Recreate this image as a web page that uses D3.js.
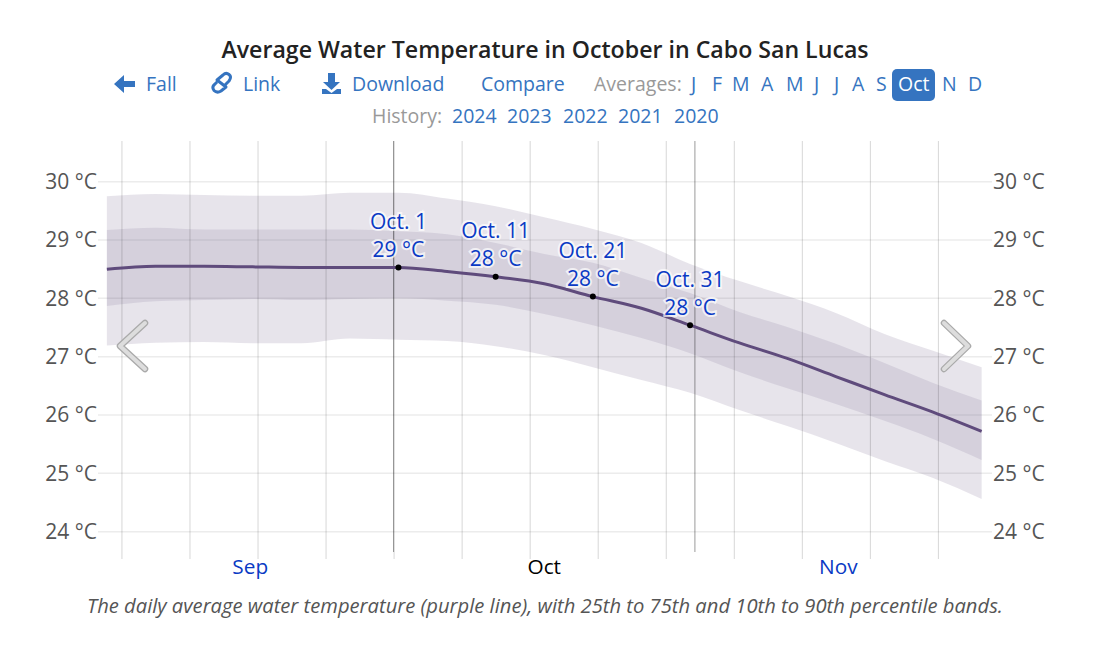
<!DOCTYPE html>
<html>
<head>
<meta charset="utf-8">
<script src="https://cdn.jsdelivr.net/npm/d3@7"></script>
<style>
  body { margin: 0; background: #fff; }
  text { font-family: "Open Sans", "Noto Sans", sans-serif; }
  .axis .domain { display: none; }
</style>
</head>
<body>
<script>
var dayOffsets = [0, 5, 10, 15, 20, 25, 30, 35, 40, 45, 50, 55, 60, 65, 70, 75, 80, 85, 90];
var mean = [28.50, 28.55, 28.55, 28.54, 28.53, 28.53, 28.53, 28.46, 28.37, 28.25, 28.03, 27.83, 27.54, 27.24, 26.97, 26.66, 26.35, 26.05, 25.72];
var p90 = [29.75, 29.79, 29.77, 29.76, 29.76, 29.81, 29.81, 29.71, 29.58, 29.39, 29.19, 28.95, 28.59, 28.30, 28.04, 27.75, 27.39, 27.10, 26.82];
var p75 = [29.17, 29.21, 29.18, 29.18, 29.18, 29.18, 29.15, 29.10, 28.95, 28.76, 28.61, 28.35, 28.09, 27.77, 27.51, 27.22, 26.89, 26.55, 26.25];
var p25 = [27.87, 27.95, 27.97, 27.99, 27.97, 27.99, 28.00, 27.96, 27.89, 27.73, 27.54, 27.32, 27.06, 26.74, 26.46, 26.19, 25.90, 25.59, 25.23];
var p10 = [27.19, 27.24, 27.25, 27.23, 27.23, 27.31, 27.29, 27.27, 27.18, 27.03, 26.82, 26.60, 26.38, 26.09, 25.81, 25.52, 25.21, 24.92, 24.56];

var yTicks = [24, 25, 26, 27, 28, 29, 30];
var monthNames = ['Sep', 'Oct', 'Nov'];
var monthCenters = [Date.UTC(2024, 8, 16, 6), Date.UTC(2024, 9, 16, 12), Date.UTC(2024, 10, 15, 18)];
var monthColors = ['#0a3ac4', '#000', '#0a3ac4'];
var markedIdx = [6, 8, 10, 12];
var markedNames = ['Oct. 1', 'Oct. 11', 'Oct. 21', 'Oct. 31'];

var navLabels = ['Fall', 'Link', 'Download', 'Compare'];
var navX = [146, 243, 352, 481];
var avgLabels = ['J', 'F', 'M', 'A', 'M', 'J', 'J', 'A', 'S', 'Oct', 'N', 'D'];
var avgX = [691, 712, 732, 761, 786, 814, 834, 852, 876, 898, 942, 968];
var years = ['2024', '2023', '2022', '2021', '2020'];
var yearX = [452, 507, 563, 618, 674];

var linkBlue = '#3574c0';
var start = Date.UTC(2024, 8, 1);
var day = 86400000;
function dateOf(i) { return new Date(start + i * day + day / 2); }

var svg = d3.select('body').append('svg')
    .attr('width', 1096)
    .attr('height', 665)
    .style('display', 'block');

// title + nav rows
svg.append('text')
  .attr('x', 545).attr('y', 58)
  .attr('text-anchor', 'middle')
  .attr('font-size', 23.15)
  .attr('font-weight', 600)
  .attr('fill', '#222')
  .text('Average Water Temperature in October in Cabo San Lucas');

svg.append('rect')
  .attr('x', 892).attr('y', 69).attr('width', 43).attr('height', 32).attr('rx', 5)
  .attr('fill', linkBlue);

function row(labels, xs, y, size) {
  svg.append('g').selectAll('text')
    .data(labels)
    .enter().append('text')
    .attr('x', function (d, i) { return xs[i]; })
    .attr('y', y)
    .attr('font-size', size)
    .attr('fill', function (d) { return d == 'Oct' ? '#fff' : linkBlue; })
    .text(function (d) { return d; });
}
row(navLabels, navX, 91, 19.5);
row(avgLabels, avgX, 91, 19.5);
row(years, yearX, 123, 19.5);

svg.append('text').attr('x', 594).attr('y', 91).attr('font-size', 19.5).attr('fill', '#999').text('Averages:');
svg.append('text').attr('x', 372).attr('y', 123).attr('font-size', 19.5).attr('fill', '#999').text('History:');

// nav icons
svg.append('path').attr('fill', linkBlue)
  .attr('d', 'M114 84 L124 75 L124 81 L135 81 L135 87 L124 87 L124 93 Z');
svg.append('path').attr('fill', 'none').attr('stroke', linkBlue).attr('stroke-width', 3)
  .attr('stroke-linejoin', 'round')
  .attr('d', 'M225 85 L229 81 Q232 77 229 74.5 Q226 72 223 75 L217 80 L226 87 L221 91 Q217 93.5 214 90.5 Q211.5 87 214.5 84.5 L217 82');
svg.append('path').attr('fill', linkBlue)
  .attr('d', 'M328 73 L335 73 L335 82 L340 82 L331.5 90 L323 82 L328 82 Z M322 89 L326 89 L331.5 93 L337 89 L341 89 L341 94 L322 94 Z');

var x = d3.scaleUtc()
    .domain([new Date(start), new Date(Date.UTC(2024, 11, 1))])
    .range([102, 986.5]);

var y = d3.scaleLinear()
    .domain([24, 30])
    .range([531.7, 181.7]);

// horizontal grid
svg.append('g').selectAll('line')
  .data(yTicks)
  .enter().append('line')
  .attr('x1', 98).attr('x2', 992)
  .attr('y1', function (d) { return y(d); })
  .attr('y2', function (d) { return y(d); })
  .attr('stroke', '#ececec')
  .attr('stroke-width', 1.5);

// percentile bands
function band(lo, hi) {
  return d3.area()
    .curve(d3.curveMonotoneX)
    .x(function (d) { return x(dateOf(d)); })
    .y0(function (d, i) { return y(lo[i]); })
    .y1(function (d, i) { return y(hi[i]); })(dayOffsets);
}
svg.append('path').attr('d', band(p10, p90)).attr('fill', '#5f4b7c').attr('fill-opacity', 0.15);
svg.append('path').attr('d', band(p25, p75)).attr('fill', '#5f4b7c').attr('fill-opacity', 0.13);

// weekly vertical grid
var xaxis = d3.axisBottom(x)
    .tickValues(d3.utcDay.range(new Date(Date.UTC(2024, 8, 3)), new Date(Date.UTC(2024, 11, 1)), 7))
    .tickSize(-418)
    .tickSizeOuter(0)
    .tickFormat('');
svg.append('g')
  .attr('class', 'axis')
  .attr('transform', 'translate(0,559)')
  .call(xaxis)
  .selectAll('.tick line')
  .attr('stroke', '#000')
  .attr('stroke-opacity', 0.16);

// month edges
svg.append('g').selectAll('line')
  .data([Date.UTC(2024, 9, 1), Date.UTC(2024, 10, 1)])
  .enter().append('line')
  .attr('x1', function (d) { return x(new Date(d)); })
  .attr('x2', function (d) { return x(new Date(d)); })
  .attr('y1', 141).attr('y2', 552)
  .attr('stroke', '#000')
  .attr('stroke-opacity', 0.4);

// y axes on both sides
function styleAxis(g) {
  g.selectAll('.tick line').remove();
  g.selectAll('.tick text').attr('font-size', 21).attr('fill', '#555');
}
var fmt = function (d) { return d + ' °C'; };
svg.append('g').attr('class', 'axis').attr('transform', 'translate(97,0)')
  .call(d3.axisLeft(y).tickValues(yTicks).tickSize(0).tickPadding(0).tickFormat(fmt))
  .call(styleAxis);
svg.append('g').attr('class', 'axis').attr('transform', 'translate(993,0)')
  .call(d3.axisRight(y).tickValues(yTicks).tickSize(0).tickPadding(0).tickFormat(fmt))
  .call(styleAxis);

// mean line
var line = d3.line()
    .curve(d3.curveMonotoneX)
    .x(function (d) { return x(dateOf(d)); })
    .y(function (d, i) { return y(mean[i]); });
svg.append('path')
  .attr('d', line(dayOffsets))
  .attr('fill', 'none')
  .attr('stroke', '#5f4b7c')
  .attr('stroke-width', 3);

// marked days
var marks = svg.append('g').selectAll('g')
  .data(markedIdx)
  .enter().append('g')
  .attr('transform', function (d) { return 'translate(' + x(dateOf(dayOffsets[d])) + ',' + y(mean[d]) + ')'; });
marks.append('circle').attr('r', 3).attr('fill', '#000');
function markText(dy, fn) {
  marks.append('text')
    .attr('y', dy)
    .attr('text-anchor', 'middle')
    .attr('font-size', 21)
    .attr('fill', '#0a3ac4')
    .attr('stroke', '#fff')
    .attr('stroke-opacity', 0.7)
    .attr('stroke-width', 4)
    .attr('paint-order', 'stroke')
    .text(fn);
}
markText(-38.5, function (d, i) { return markedNames[i]; });
markText(-10.5, function (d) { return Math.round(mean[d]) + ' °C'; });

// month labels
svg.append('g').selectAll('text')
  .data(monthNames)
  .enter().append('text')
  .attr('x', function (d, i) { return x(new Date(monthCenters[i])); })
  .attr('y', 574)
  .attr('text-anchor', 'middle')
  .attr('font-size', 20.8)
  .attr('fill', function (d, i) { return monthColors[i]; })
  .text(function (d) { return d; });

// caption
svg.append('text')
  .attr('x', 545).attr('y', 613)
  .attr('text-anchor', 'middle')
  .attr('font-size', 20.2)
  .attr('font-style', 'italic')
  .attr('fill', '#555')
  .text('The daily average water temperature (purple line), with 25th to 75th and 10th to 90th percentile bands.');

// scroll chevrons
function chevron(d) {
  svg.append('path').attr('d', d).attr('fill', 'none').attr('stroke', '#aaa')
    .attr('stroke-width', 6.5).attr('stroke-linecap', 'round').attr('stroke-linejoin', 'round');
  svg.append('path').attr('d', d).attr('fill', 'none').attr('stroke', '#ddd')
    .attr('stroke-width', 4).attr('stroke-linecap', 'round').attr('stroke-linejoin', 'round');
}
chevron('M145 323 L120 346 L145 369');
chevron('M944 323 L968 346 L944 369');
</script>
</body>
</html>
